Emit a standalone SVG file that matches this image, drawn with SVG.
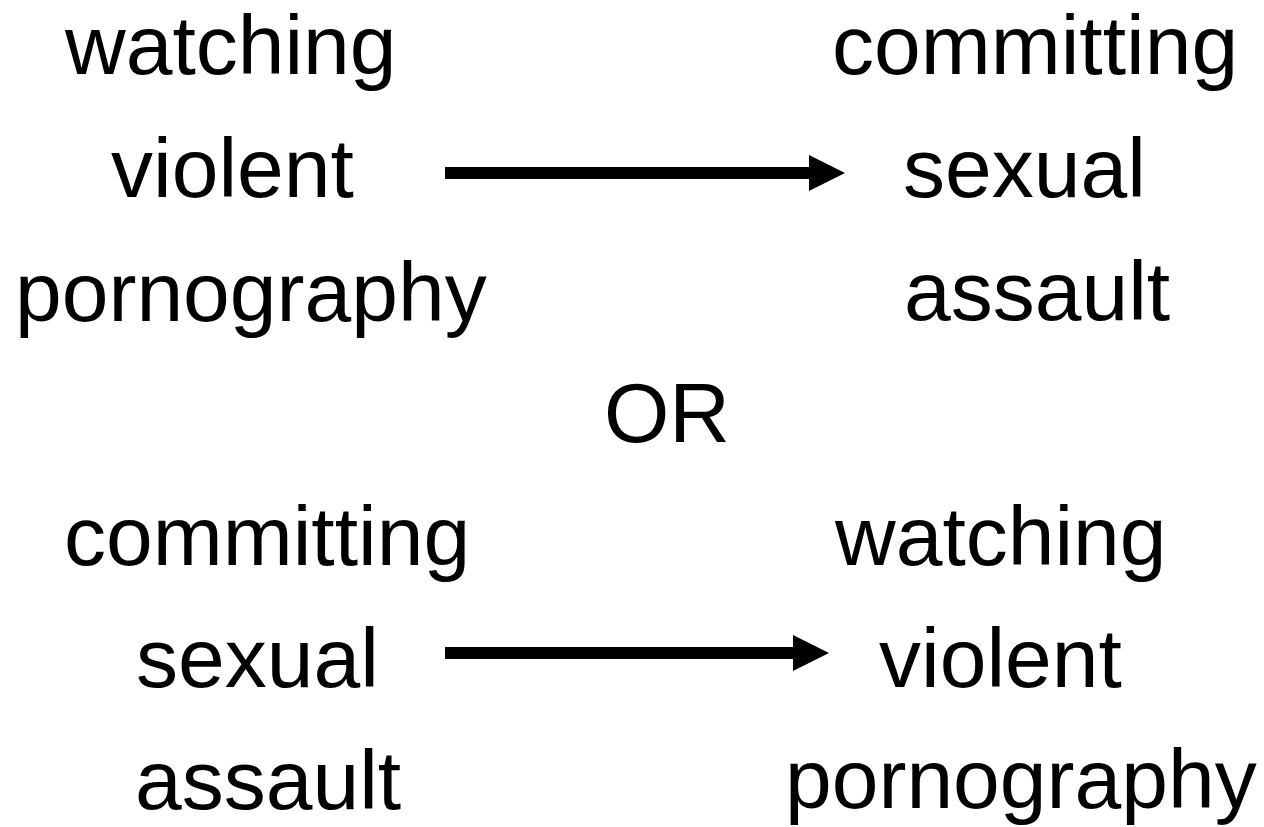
<svg xmlns="http://www.w3.org/2000/svg" width="1264" height="827" viewBox="0 0 1264 827">
<style>
text{font-family:"Liberation Sans",Arial,sans-serif;font-size:84px;fill:#000}
.conn{stroke:#000;stroke-width:12;fill:none}
</style>
<defs>
<marker id="ah" markerUnits="userSpaceOnUse" markerWidth="36" markerHeight="36" refX="0" refY="18" orient="auto" viewBox="0 0 36 36">
<path d="M0,0 L36,18 L0,36 Z" fill="#000"/>
</marker>
</defs>
<rect width="1264" height="827" fill="#fff"/>
<g id="n-top-left">
<text x="65" y="74">watching</text>
<text x="111" y="197">violent</text>
<text x="15" y="321">pornography</text>
</g>
<g id="n-top-right">
<text x="832" y="74">committing</text>
<text x="903" y="197">sexual</text>
<text x="904" y="320">assault</text>
</g>
<g id="n-or">
<text x="604" y="442">OR</text>
</g>
<g id="n-bottom-left">
<text x="64" y="565">committing</text>
<text x="136" y="687">sexual</text>
<text x="135" y="809">assault</text>
</g>
<g id="n-bottom-right">
<text x="835" y="565">watching</text>
<text x="879" y="687">violent</text>
<text x="785" y="808">pornography</text>
</g>
<g id="connectors">
<line class="conn" x1="445" y1="173" x2="809" y2="173" marker-end="url(#ah)"/>
<line class="conn" x1="445" y1="653" x2="793" y2="653" marker-end="url(#ah)"/>
</g>
</svg>
